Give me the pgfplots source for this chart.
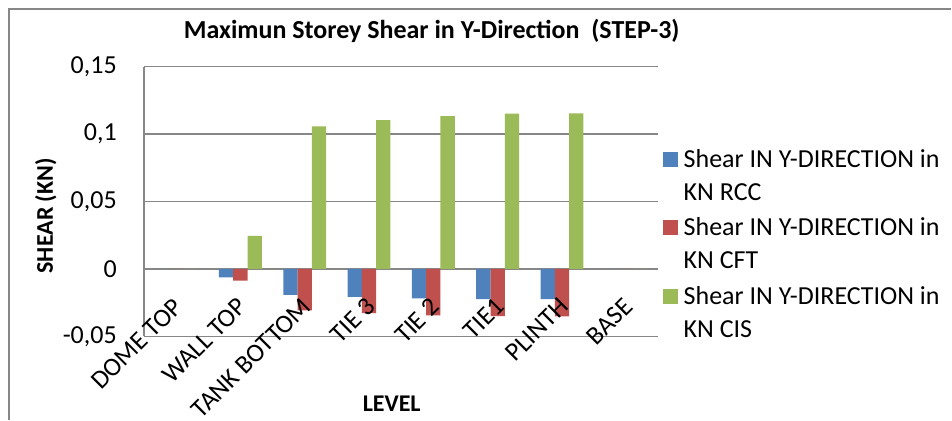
\documentclass[border=0pt]{standalone}
\usepackage{pgfplots}
\pgfplotsset{compat=1.18}
\usepackage{fontspec}
\setmainfont{Carlito}
\definecolor{cblue}{HTML}{4F81BD}
\definecolor{cred}{HTML}{C0504D}
\definecolor{cgreen}{HTML}{9BBB59}
\definecolor{gridgray}{HTML}{878787}
\pgfplotsset{chartbox/.style={at={(144pt,83.3pt)}, anchor=south west, scale only axis,
  width=515pt, height=270pt, ymin=-0.05, ymax=0.15, xmin=-0.5, xmax=7.5}}
\begin{document}
\begin{tikzpicture}[x=1pt,y=1pt]
\path (0,0) rectangle (952,420);
\draw[gridgray, line width=1.5pt] (9,0) -- (9,411) -- (952,411);
\begin{axis}[
  chartbox,
  ybar=0pt, bar width=14.3pt,
  axis lines*=left,
  x axis line style={draw=none},
  y axis line style={gridgray, line width=1.3pt},
  major tick length=0pt,
  ymajorgrids, grid style={gridgray, line width=1.3pt},
  xtick=\empty,
  ytick={-0.05,0,0.05,0.1,0.15},
  yticklabels={{-0,05},{0},{0,05},{0,1},{0,15}},
  yticklabel style={inner sep=0pt, xshift=-27pt, anchor=east, font=\fontsize{26}{30}\selectfont},
  legend style={at={(1.002,0.71)}, anchor=north west, draw=none, fill=none,
    font=\fontsize{26}{33}\selectfont, cells={anchor=west, align=left}, row sep=12pt, column sep=4pt},
  legend image code/.code={\fill[#1] (0pt,8.5pt) rectangle (15pt,23.5pt);},
]
\addplot[fill=cblue, draw=none] coordinates {(0,0) (1,-0.0062) (2,-0.0192) (3,-0.0207) (4,-0.0217) (5,-0.0224) (6,-0.0224) (7,0)};
\addplot[fill=cred, draw=none] coordinates {(0,0) (1,-0.0086) (2,-0.0306) (3,-0.0328) (4,-0.0343) (5,-0.0350) (6,-0.0352) (7,0)};
\addplot[fill=cgreen, draw=none] coordinates {(0,0) (1,0.0246) (2,0.1058) (3,0.1103) (4,0.1134) (5,0.1152) (6,0.1154) (7,0)};
\addlegendentry{Shear IN Y-DIRECTION in\\KN RCC}
\addlegendentry{Shear IN Y-DIRECTION in\\KN CFT}
\addlegendentry{Shear IN Y-DIRECTION in\\KN CIS}
\end{axis}
\begin{axis}[
  chartbox,
  axis lines*=left,
  hide y axis,
  x axis line style={draw=none},
  major tick length=0pt,
  xtick={0,...,7},
  xticklabels={DOME TOP, WALL TOP, TANK BOTTOM, TIE 3, TIE 2, TIE1, PLINTH, BASE},
  xticklabel style={inner sep=0pt, xshift=2pt, yshift=34pt, rotate=45, anchor=east, font=\fontsize{26}{30}\selectfont},
]
\end{axis}
\node[anchor=base, font=\bfseries\fontsize{26}{30}\selectfont] at (432,381) {Maximun Storey Shear in Y-Direction\ \ (STEP-3)};
\node[anchor=base, rotate=90, font=\bfseries\fontsize{24}{28}\selectfont] at (53,204) {SHEAR (KN)};
\node[anchor=base, font=\bfseries\fontsize{24}{28}\selectfont] at (392,8) {LEVEL};
\end{tikzpicture}
\end{document}
